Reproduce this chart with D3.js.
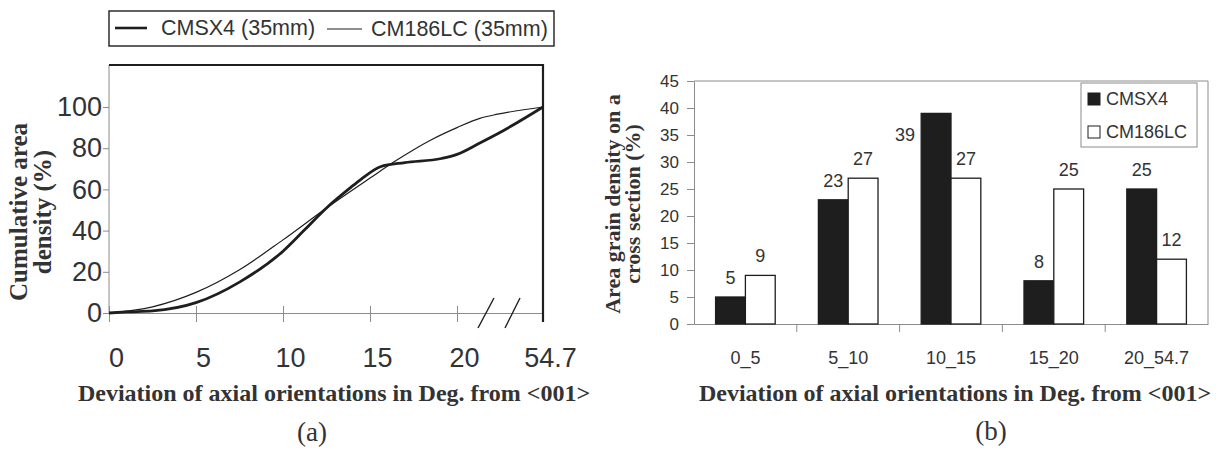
<!DOCTYPE html>
<html>
<head>
<meta charset="utf-8">
<script src="https://cdn.jsdelivr.net/npm/d3@7"></script>
<style>
	body { margin: 0; background: #fff; }
	svg { display: block; }
</style>
</head>
<body>
<div id="canvas"></div>
<script>
// Data: (a) cumulative curves, x in degrees (axis broken between 20 and 54.7)
const cmsx4Curve = [
	[0, 0], [1, 0.5], [2.5, 1], [5, 5], [7.5, 15], [10, 30], [11.2, 40], [12.5, 51],
	[13.9, 61], [14.5, 65], [15.6, 71], [17, 73], [19.1, 75], [20, 77], [29.2, 82.5], [36.4, 87], [54.7, 100],
]
const cm186Curve = [
	[0, 0], [2.5, 3], [5, 10], [7.5, 21], [10, 35.5], [12.5, 51], [15, 65.5],
	[16.5, 74], [18.5, 84], [20, 90], [29.2, 94.5], [36.4, 96.5], [54.7, 100],
]
const lineTicksX = [0, 5, 10, 15, 20, 54.7]
const lineTicksY = [0, 20, 40, 60, 80, 100]

// Data: (b) bar chart
const binLabels = ['0_5', '5_10', '10_15', '15_20', '20_54.7']
const cmsx4Bars = [5, 23, 39, 8, 25]
const cm186Bars = [9, 27, 27, 25, 12]
const barTicksY = [0, 5, 10, 15, 20, 25, 30, 35, 40, 45]

const colors = {
	ink: '#1e1e1e',
	text: '#333',
	axis: '#8c8c8c',
}
const sans = '"Liberation Sans", Arial, sans-serif'
const serif = '"Liberation Serif", "Times New Roman", serif'

const svg = d3.select('#canvas').append('svg').attr('width', 1218).attr('height', 451)

// ---------- (a) line chart ----------
const a = {left: 109, right: 543, top: 65, bottom: 313}
const xA = d3.scaleLinear().domain([0, 20, 54.7]).range([a.left, 457, a.right])
const yA = d3.scaleLinear().domain([0, 100]).range([a.bottom, 107])

const gxA = svg.append('g').attr('transform', `translate(0,${a.bottom})`)
	.call(d3.axisBottom(xA).tickValues(lineTicksX).tickSizeInner(9).tickSizeOuter(0).tickPadding(26).tickFormat(d => d))
gxA.select('.domain').attr('stroke', colors.axis)
gxA.selectAll('.tick line').attr('stroke', colors.axis).attr('y1', -7)
gxA.selectAll('.tick text').attr('font-family', sans).attr('font-size', 27).attr('fill', colors.text).attr('dx', 7)

const gyA = svg.append('g').attr('transform', `translate(${a.left},0)`)
	.call(d3.axisLeft(yA).tickValues(lineTicksY).tickSizeInner(6).tickSizeOuter(0).tickPadding(1))
gyA.select('.domain').attr('d', `M0,${a.top}V${a.bottom}`).attr('stroke', colors.axis)
gyA.selectAll('.tick line').attr('stroke', colors.axis)
gyA.selectAll('.tick text').attr('font-family', sans).attr('font-size', 27).attr('fill', colors.text)

// top and right frame (heavy)
svg.append('path')
	.attr('d', `M${a.left},${a.top}H${a.right}V${a.bottom + 9}`)
	.attr('fill', 'none').attr('stroke', colors.ink).attr('stroke-width', 2.2)

// axis break marks
;[[478, 494], [505, 520]].forEach(([x0, x1]) => {
	svg.append('line').attr('x1', x0).attr('y1', 328).attr('x2', x1).attr('y2', 298)
		.attr('stroke', colors.ink).attr('stroke-width', 1.4)
})

const lineGen = d3.line().curve(d3.curveMonotoneX).x(d => xA(d[0])).y(d => yA(d[1]))
svg.append('path').attr('d', lineGen(cm186Curve))
	.attr('fill', 'none').attr('stroke', colors.ink).attr('stroke-width', 1.2)
svg.append('path').attr('d', lineGen(cmsx4Curve))
	.attr('fill', 'none').attr('stroke', colors.ink).attr('stroke-width', 2.8)

// legend (a)
const legA = svg.append('g')
legA.append('rect').attr('x', 109).attr('y', 11).attr('width', 445).attr('height', 35)
	.attr('fill', 'none').attr('stroke', colors.ink).attr('stroke-width', 1.4)
legA.append('line').attr('x1', 115).attr('x2', 147).attr('y1', 28).attr('y2', 28).attr('stroke', colors.ink).attr('stroke-width', 2.6)
legA.append('text').attr('x', 161).attr('y', 35).text('CMSX4 (35mm)')
	.attr('font-family', sans).attr('font-size', 21.5).attr('fill', colors.text)
legA.append('line').attr('x1', 327).attr('x2', 362).attr('y1', 29).attr('y2', 29).attr('stroke', colors.ink).attr('stroke-width', 1.2)
legA.append('text').attr('x', 371).attr('y', 36).text('CM186LC (35mm)')
	.attr('font-family', sans).attr('font-size', 21.5).attr('fill', colors.text)

// titles (a)
const yTitleA = svg.append('text').attr('transform', 'translate(27,212) rotate(-90)')
	.attr('text-anchor', 'middle').attr('font-family', serif).attr('font-weight', 'bold')
	.attr('font-size', 25).attr('fill', colors.text)
yTitleA.append('tspan').attr('x', 0).attr('dy', 0).text('Cumulative area')
yTitleA.append('tspan').attr('x', 0).attr('dy', 24).text('density (%)')

svg.append('text').attr('x', 334).attr('y', 401).attr('text-anchor', 'middle')
	.attr('font-family', serif).attr('font-weight', 'bold').attr('font-size', 24).attr('fill', colors.text)
	.text('Deviation of axial orientations in Deg. from <001>')
svg.append('text').attr('x', 312).attr('y', 441).attr('text-anchor', 'middle')
	.attr('font-family', serif).attr('font-size', 27).attr('fill', colors.text).text('(a)')

// ---------- (b) bar chart ----------
const b = {left: 694, right: 1208, top: 81, bottom: 324}
const xB = d3.scaleBand().domain(binLabels).range([b.left, b.right])
const yB = d3.scaleLinear().domain([0, 45]).range([b.bottom, b.top])
const barW = xB.bandwidth() * 0.29

// frame
svg.append('path').attr('d', `M${b.left},${b.top}H${b.right}V${b.bottom}`)
	.attr('fill', 'none').attr('stroke', colors.axis).attr('stroke-width', 1)

const gyB = svg.append('g').attr('transform', `translate(${b.left},0)`)
	.call(d3.axisLeft(yB).tickValues(barTicksY).tickSizeInner(7).tickSizeOuter(0).tickPadding(8))
gyB.select('.domain').attr('stroke', colors.axis)
gyB.selectAll('.tick line').attr('stroke', colors.axis)
gyB.selectAll('.tick text').attr('font-family', sans).attr('font-size', 17).attr('fill', colors.text)

const gxB = svg.append('g').attr('transform', `translate(0,${b.bottom})`)
	.call(d3.axisBottom(xB).tickSize(0).tickPadding(27))
gxB.select('.domain').attr('stroke', colors.axis)
gxB.selectAll('.tick text').attr('font-family', sans).attr('font-size', 18).attr('fill', colors.text)
// tick marks between categories
gxB.selectAll('.sep').data(binLabels.slice(1)).enter().append('line')
	.attr('x1', d => xB(d)).attr('x2', d => xB(d)).attr('y1', 0).attr('y2', 8)
	.attr('stroke', colors.axis)

const series = [
	{name: 'CMSX4', values: cmsx4Bars, fill: colors.ink, off: -1},
	{name: 'CM186LC', values: cm186Bars, fill: '#fff', off: 0},
]
series.forEach(s => {
	const g = svg.append('g')
	const bars = binLabels.map((c, i) => ({c, v: s.values[i]}))
	g.selectAll('rect').data(bars).enter().append('rect')
		.attr('x', d => xB(d.c) + xB.bandwidth() / 2 + s.off * barW)
		.attr('y', d => yB(d.v))
		.attr('width', barW)
		.attr('height', d => yB(0) - yB(d.v))
		.attr('fill', s.fill).attr('stroke', colors.ink).attr('stroke-width', 1.3)
	g.selectAll('text').data(bars).enter().append('text')
		.attr('x', d => {
			const cx = xB(d.c) + xB.bandwidth() / 2 + s.off * barW + barW / 2
			return d.v > 35 ? cx - 31 : cx   // tallest label sits beside its bar
		})
		.attr('y', d => d.v > 35 ? yB(d.v) + 28 : yB(d.v) - 13)
		.attr('text-anchor', 'middle')
		.attr('font-family', sans).attr('font-size', 18).attr('fill', colors.text)
		.text(d => d.v)
})

// legend (b)
const legB = svg.append('g')
legB.append('rect').attr('x', 1081).attr('y', 83).attr('width', 116).attr('height', 64)
	.attr('fill', '#fff').attr('stroke', colors.axis)
series.forEach((s, i) => {
	legB.append('rect').attr('x', 1088).attr('y', 93 + i * 33).attr('width', 12).attr('height', 12)
		.attr('fill', s.fill).attr('stroke', colors.ink)
	legB.append('text').attr('x', 1106).attr('y', 105 + i * 33).text(s.name)
		.attr('font-family', sans).attr('font-size', 18).attr('fill', colors.text)
})

// titles (b)
const yTitleB = svg.append('text').attr('transform', 'translate(620,204) rotate(-90)')
	.attr('text-anchor', 'middle').attr('font-family', serif).attr('font-weight', 'bold')
	.attr('font-size', 22).attr('fill', colors.text)
yTitleB.append('tspan').attr('x', 0).attr('dy', 0).text('Area grain density on a')
yTitleB.append('tspan').attr('x', 0).attr('dy', 20).text('cross section (%)')

svg.append('text').attr('x', 955).attr('y', 401).attr('text-anchor', 'middle')
	.attr('font-family', serif).attr('font-weight', 'bold').attr('font-size', 24).attr('fill', colors.text)
	.text('Deviation of axial orientations in Deg. from <001>')
svg.append('text').attr('x', 991).attr('y', 440).attr('text-anchor', 'middle')
	.attr('font-family', serif).attr('font-size', 27).attr('fill', colors.text).text('(b)')
</script>
</body>
</html>
